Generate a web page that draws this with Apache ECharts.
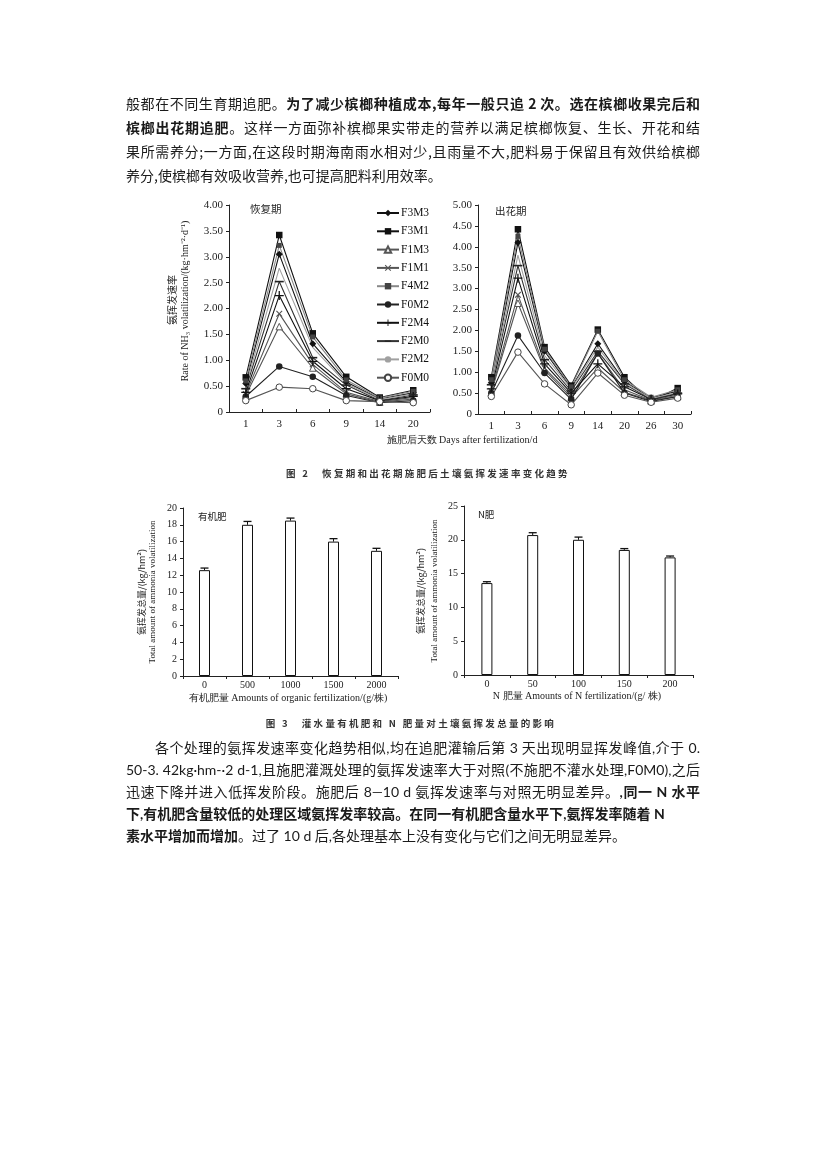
<!DOCTYPE html>
<html><head><meta charset="utf-8">
<script src="https://cdn.jsdelivr.net/npm/echarts@6/dist/echarts.min.js"></script>
<style>
html,body{margin:0;padding:0;background:#fff;width:827px;height:1169px;overflow:hidden;}
#chart{position:absolute;left:0;top:0;width:827px;height:1169px;}
.ln{position:absolute;left:126px;width:574px;font-family:"Noto Sans CJK SC","Noto Sans",sans-serif;font-size:14px;color:#1a1a1a;text-align:justify;text-align-last:justify;white-space:nowrap;}
.p1{line-height:24px;height:24px;}
.p2{line-height:22px;height:22px;font-family:Lato,"Noto Sans CJK SC",sans-serif;}
.nl{text-align-last:left;}
b{font-weight:700;}
.cap{position:absolute;font-family:"Noto Sans CJK SC",sans-serif;font-size:9.5px;font-weight:700;color:#333;letter-spacing:2.3px;white-space:nowrap;transform:translate(-50%,-50%);}
</style></head>
<body>
<div id="chart"></div>
<div class="ln p1" style="top:91px">般都在不同生育期追肥。<b>为了减少槟榔种植成本,每年一般只追 2 次。选在槟榔收果完后和</b></div>
<div class="ln p1" style="top:115px"><b>槟榔出花期追肥</b>。这样一方面弥补槟榔果实带走的营养以满足槟榔恢复、生长、开花和结</div>
<div class="ln p1" style="top:139px">果所需养分;一方面,在这段时期海南雨水相对少,且雨量不大,肥料易于保留且有效供给槟榔</div>
<div class="ln p1 nl" style="top:163px">养分,使槟榔有效吸收营养,也可提高肥料利用效率。</div>

<div class="cap" style="left:428px;top:473px">图 2　恢复期和出花期施肥后土壤氨挥发速率变化趋势</div>
<div class="cap" style="left:411px;top:723px">图 3　灌水量有机肥和 N 肥量对土壤氨挥发总量的影响</div>

<div class="ln p2" style="top:737px">　　各个处理的氨挥发速率变化趋势相似,均在追肥灌输后第 3 天出现明显挥发峰值,介于 0.</div>
<div class="ln p2" style="top:759px">50-3. 42kg·hm-·2 d-1,且施肥灌溉处理的氨挥发速率大于对照(不施肥不灌水处理,F0M0),之后</div>
<div class="ln p2" style="top:781px">迅速下降并进入低挥发阶段。施肥后 8—10 d 氨挥发速率与对照无明显差异。<b>,同一 N 水平</b></div>
<div class="ln p2 nl" style="top:803px"><b>下,有机肥含量较低的处理区域氨挥发率较高。在同一有机肥含量水平下,氨挥发率随着 N</b></div>
<div class="ln p2 nl" style="top:825px"><b>素水平增加而增加</b>。过了 10 d 后,各处理基本上没有变化与它们之间无明显差异。</div>

<script>
// ---- data ----
const days1 = ['1','3','6','9','14','20'];
const days2 = ['1','3','6','9','14','20','26','30'];
const treatments = ['F3M3','F3M1','F1M3','F1M1','F4M2','F0M2','F2M4','F2M0','F2M2','F0M0'];

// recovery period (恢复期)
const recF3M3 = [0.55, 3.05, 1.32, 0.58, 0.25, 0.37];
const recF3M1 = [0.67, 3.42, 1.52, 0.68, 0.28, 0.42];
const recF1M3 = [0.32, 1.65, 0.85, 0.35, 0.19, 0.25];
const recF1M1 = [0.35, 1.90, 0.92, 0.38, 0.20, 0.28];
const recF4M2 = [0.60, 3.22, 1.45, 0.62, 0.27, 0.40];
const recF0M2 = [0.30, 0.88, 0.68, 0.32, 0.18, 0.22];
const recF2M4 = [0.38, 2.25, 0.98, 0.45, 0.22, 0.30];
const recF2M0 = [0.45, 2.52, 1.05, 0.52, 0.22, 0.33];
const recF2M2 = [0.50, 2.78, 1.25, 0.55, 0.24, 0.35];
const recF0M0 = [0.22, 0.48, 0.45, 0.22, 0.20, 0.18];

// flowering period (出花期)
const floF3M3 = [0.75, 4.10, 1.50, 0.62, 1.68, 0.78, 0.38, 0.55];
const floF3M1 = [0.88, 4.42, 1.60, 0.68, 2.02, 0.88, 0.30, 0.62];
const floF1M3 = [0.52, 2.65, 1.05, 0.40, 1.10, 0.52, 0.32, 0.42];
const floF1M1 = [0.55, 2.85, 1.10, 0.45, 1.45, 0.58, 0.33, 0.45];
const floF4M2 = [0.82, 4.25, 1.55, 0.65, 1.98, 0.82, 0.40, 0.58];
const floF0M2 = [0.50, 1.88, 0.98, 0.35, 1.45, 0.50, 0.30, 0.42];
const floF2M4 = [0.60, 3.25, 1.20, 0.50, 1.20, 0.65, 0.35, 0.48];
const floF2M0 = [0.70, 3.55, 1.30, 0.55, 1.50, 0.72, 0.35, 0.50];
const floF2M2 = [0.72, 3.80, 1.40, 0.60, 1.60, 0.75, 0.37, 0.52];
const floF0M0 = [0.42, 1.48, 0.72, 0.22, 0.98, 0.45, 0.28, 0.38];

// totals
const organicCats = ['0','500','1000','1500','2000'];
const organicVals = [12.6, 18.0, 18.5, 16.0, 14.9];
const organicErr  = [0.25, 0.40, 0.30, 0.35, 0.30];
const nCats = ['0','50','100','150','200'];
const nVals = [13.6, 20.7, 20.0, 18.5, 17.4];
const nErr  = [0.20, 0.35, 0.40, 0.20, 0.20];

const recData = {F3M3:recF3M3,F3M1:recF3M1,F1M3:recF1M3,F1M1:recF1M1,F4M2:recF4M2,F0M2:recF0M2,F2M4:recF2M4,F2M0:recF2M0,F2M2:recF2M2,F0M0:recF0M0};
const floData = {F3M3:floF3M3,F3M1:floF3M1,F1M3:floF1M3,F1M1:floF1M1,F4M2:floF4M2,F0M2:floF0M2,F2M4:floF2M4,F2M0:floF2M0,F2M2:floF2M2,F0M0:floF0M0};

// ---- styles ----
const XSYM = 'path://M0,1.2L1.2,0L5,3.8L8.8,0L10,1.2L6.2,5L10,8.8L8.8,10L5,6.2L1.2,10L0,8.8L3.8,5Z';
const PLUS = 'path://M4.3,0H5.7V4.3H10V5.7H5.7V10H4.3V5.7H0V4.3H4.3Z';
const DASH = 'path://M0,0M10,10M0,4.1H10V5.9H0Z';
const sty = {
  F3M3:{symbol:'diamond', size:7, line:'#111', fill:'#111', border:'#111'},
  F3M1:{symbol:'rect', size:6.5, line:'#111', fill:'#111', border:'#111'},
  F1M3:{symbol:'triangle', size:6.5, line:'#555', fill:'#fff', border:'#555'},
  F1M1:{symbol:XSYM, size:6.5, line:'#555', fill:'#555', border:'#555'},
  F4M2:{symbol:'rect', size:5, line:'#888', fill:'#444', border:'#444'},
  F0M2:{symbol:'circle', size:6.5, line:'#222', fill:'#222', border:'#222'},
  F2M4:{symbol:PLUS, size:9, line:'#111', fill:'#111', border:'#111'},
  F2M0:{symbol:DASH, size:9, line:'#333', fill:'#222', border:'#222'},
  F2M2:{symbol:'none', size:0, line:'#a0a0a0', fill:'#a0a0a0', border:'#a0a0a0'},
  F0M0:{symbol:'circle', size:6.5, line:'#555', fill:'#fff', border:'#444'}
};
const SERIF = '"Liberation Serif","Times New Roman",serif';
const CJK = '"Noto Sans CJK SC",sans-serif';
const TXT = '#222';

function lineSeries(name, data, idx){
  const s = sty[name];
  return {
    name, type:'line', data, xAxisIndex:idx, yAxisIndex:idx,
    symbol:s.symbol, symbolSize:s.size, showSymbol: s.symbol!=='none', symbolKeepAspect:true,
    lineStyle:{color:s.line, width:1.1},
    itemStyle:{color:s.fill, borderColor:s.border, borderWidth: (s.fill==='#fff')?1:0},
    emphasis:{disabled:true}, animation:false
  };
}
function errSeries(vals, errs, idx){
  return {
    type:'custom', xAxisIndex:idx, yAxisIndex:idx, animation:false, z:5,
    data: vals.map((v,i)=>[i, v, errs[i]]),
    encode:{x:0, y:1},
    renderItem:(params, api)=>{
      const i = api.value(0), v = api.value(1), e = api.value(2);
      const b = api.coord([i, v]), t = api.coord([i, v+e]);
      return {type:'group', children:[
        {type:'line', shape:{x1:b[0], y1:b[1], x2:t[0], y2:t[1]}, style:{stroke:'#111', lineWidth:1}},
        {type:'line', shape:{x1:t[0]-4, y1:t[1], x2:t[0]+4, y2:t[1]}, style:{stroke:'#111', lineWidth:1.3}}
      ]};
    }
  };
}

const axisLineS = {show:true, lineStyle:{color:'#222', width:1}};
function catAxis(idx, data, fs, inside, margin){
  return {type:'category', gridIndex:idx, data, boundaryGap:true,
    axisLine:axisLineS, axisTick:{show:true, inside:inside, length:3, lineStyle:{color:'#222'}},
    axisLabel:{fontFamily:SERIF, fontSize:fs, color:TXT, margin:margin}, splitLine:{show:false}};
}
function valAxis(idx, min, max, interval, fs, fmt){
  return {type:'value', gridIndex:idx, min, max, interval,
    axisLine:axisLineS, axisTick:{show:true, length:3, lineStyle:{color:'#222'}},
    axisLabel:{fontFamily:SERIF, fontSize:fs, color:TXT, margin:6, formatter:fmt}, splitLine:{show:false}};
}
const fmt2 = v => v===0 ? '0' : v.toFixed(2);

const series = [];
treatments.forEach(n=>series.push(lineSeries(n, recData[n], 0)));
treatments.forEach(n=>series.push(lineSeries(n, floData[n], 1)));
series.push({type:'bar', xAxisIndex:2, yAxisIndex:2, data:organicVals, barWidth:11, animation:false,
  itemStyle:{color:'#fff', borderColor:'#111', borderWidth:1}});
series.push(errSeries(organicVals, organicErr, 2));
series.push({type:'bar', xAxisIndex:3, yAxisIndex:3, data:nVals, barWidth:11, animation:false,
  itemStyle:{color:'#fff', borderColor:'#111', borderWidth:1}});
series.push(errSeries(nVals, nErr, 3));

function gtext(x, y, text, opt){
  return Object.assign({type:'text', x, y, style:Object.assign({text, fill:TXT, font:'10px '+SERIF, align:'center', verticalAlign:'middle'}, opt&&opt.style||{})}, opt&&opt.rot?{rotation:opt.rot}:{});
}

const option = {
  backgroundColor:'transparent',
  animation:false,
  grid:[
    {left:229, top:205, width:201, height:207},
    {left:478, top:205, width:213, height:209},
    {left:183, top:508, width:215, height:168},
    {left:464, top:506, width:229, height:169}
  ],
  xAxis:[catAxis(0, days1, 11, true, 7), catAxis(1, days2, 11, true, 7), catAxis(2, organicCats, 10, false, 4), catAxis(3, nCats, 10, false, 4)],
  yAxis:[valAxis(0, 0, 4, 0.5, 11, fmt2), valAxis(1, 0, 5, 0.5, 11, fmt2), valAxis(2, 0, 20, 2, 10), valAxis(3, 0, 25, 5, 10)],
  legend:{
    data:treatments, orient:'vertical', left:371, top:202, itemWidth:22, itemHeight:8, itemGap:6.3,
    textStyle:{fontFamily:SERIF, fontSize:11.5, color:'#111', padding:[0,0,0,-3]}, selectedMode:false
  },
  graphic:[
    gtext(250, 209, '恢复期', {style:{align:'left', font:'10.5px '+CJK}}),
    gtext(495, 211, '出花期', {style:{align:'left', font:'10.5px '+CJK}}),
    gtext(198, 516, '有机肥', {style:{align:'left', font:'9.5px '+CJK}}),
    gtext(478, 514, 'N肥', {style:{align:'left', font:'9.5px '+CJK}}),
    gtext(462, 440, '施肥后天数 Days after fertilization/d', {style:{font:'10px '+SERIF}}),
    gtext(172, 300, '氨挥发速率', {rot:Math.PI/2, style:{font:'10px '+CJK}}),
    gtext(185, 301, 'Rate of NH₃ volatilization/(kg·hm⁻²·d⁻¹)', {rot:Math.PI/2, style:{font:'10px '+SERIF}}),
    gtext(142, 592, '氨挥发总量/(kg/hm²)', {rot:Math.PI/2, style:{font:'9px '+CJK}}),
    gtext(153, 592, 'Total amount of ammonia volatilization', {rot:Math.PI/2, style:{font:'9px '+SERIF}}),
    gtext(421, 591, '氨挥发总量/(kg/hm²)', {rot:Math.PI/2, style:{font:'9px '+CJK}}),
    gtext(435, 591, 'Total amount of ammonia volatilization', {rot:Math.PI/2, style:{font:'9px '+SERIF}}),
    gtext(288, 698, '有机肥量 Amounts of organic fertilization/(g/株)', {style:{font:'10px '+SERIF}}),
    gtext(577, 696, 'N 肥量 Amounts of N fertilization/(g/ 株)', {style:{font:'10px '+SERIF}})
  ],
  series
};
const chart = echarts.init(document.getElementById('chart'), null, {renderer:'canvas'});
chart.setOption(option);
</script>
</body></html>
